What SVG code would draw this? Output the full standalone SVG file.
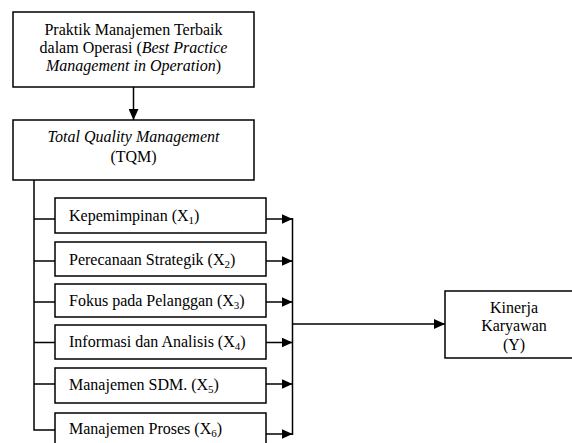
<svg xmlns="http://www.w3.org/2000/svg" width="572" height="443" viewBox="0 0 572 443">
<style>
.box{fill:#fff;stroke:#000;stroke-width:1.5}
.ln{fill:none;stroke:#000;stroke-width:1.5}
text{font-family:'Liberation Serif','Times New Roman',serif;font-size:16px;fill:#000}
.c{text-anchor:middle}
.i{font-style:italic}
.sub{font-size:11px}
</style>
<defs>
<marker id="ah" markerWidth="11" markerHeight="10" refX="11" refY="5" orient="auto" markerUnits="userSpaceOnUse">
<path d="M0,0 L11,5 L0,10 Z" fill="#000"/>
</marker>
</defs>
<rect width="572" height="443" fill="#fff"/>

<g id="connectors">
<line class="ln" x1="133.5" y1="87" x2="133.5" y2="120" marker-end="url(#ah)"/>
<path class="ln" d="M34,180 V430 H55"/>
<line class="ln" x1="34" y1="219" x2="55" y2="219"/>
<line class="ln" x1="34" y1="261" x2="55" y2="261"/>
<line class="ln" x1="34" y1="302" x2="55" y2="302"/>
<line class="ln" x1="34" y1="342.5" x2="55" y2="342.5"/>
<line class="ln" x1="34" y1="384" x2="55" y2="384"/>
<line class="ln" x1="266" y1="219" x2="292.5" y2="219" marker-end="url(#ah)"/>
<line class="ln" x1="266" y1="261" x2="292.5" y2="261" marker-end="url(#ah)"/>
<line class="ln" x1="266" y1="302" x2="292.5" y2="302" marker-end="url(#ah)"/>
<line class="ln" x1="266" y1="342.5" x2="292.5" y2="342.5" marker-end="url(#ah)"/>
<line class="ln" x1="266" y1="384" x2="292.5" y2="384" marker-end="url(#ah)"/>
<line class="ln" x1="266" y1="434" x2="292.5" y2="434" marker-end="url(#ah)"/>
<line class="ln" x1="292.5" y1="218" x2="292.5" y2="435"/>
<line class="ln" x1="292.5" y1="324" x2="445" y2="324" marker-end="url(#ah)"/>
</g>

<g id="best-practice">
<rect class="box" x="13" y="12" width="241" height="75"/>
<text class="c" x="133.5" y="35">Praktik Manajemen Terbaik</text>
<text class="c" x="133.5" y="53">dalam Operasi (<tspan class="i">Best Practice</tspan></text>
<text class="c" x="133.5" y="71"><tspan class="i">Management in Operation</tspan>)</text>
</g>

<g id="tqm">
<rect class="box" x="13" y="120" width="241" height="60"/>
<text class="c i" x="133.5" y="142">Total Quality Management</text>
<text class="c" x="133.5" y="162">(TQM)</text>
</g>

<g id="x1">
<rect class="box" x="55" y="198" width="211" height="35"/>
<text x="69" y="221">Kepemimpinan (X<tspan class="sub" dy="3">1</tspan><tspan dy="-3">)</tspan></text>
</g>
<g id="x2">
<rect class="box" x="55" y="242" width="211" height="34"/>
<text x="69" y="265">Perecanaan Strategik (X<tspan class="sub" dy="3">2</tspan><tspan dy="-3">)</tspan></text>
</g>
<g id="x3">
<rect class="box" x="55" y="284" width="211" height="33"/>
<text x="69" y="306">Fokus pada Pelanggan (X<tspan class="sub" dy="3">3</tspan><tspan dy="-3">)</tspan></text>
</g>
<g id="x4">
<rect class="box" x="55" y="325" width="211" height="34"/>
<text x="69" y="347">Informasi dan Analisis (X<tspan class="sub" dy="3">4</tspan><tspan dy="-3">)</tspan></text>
</g>
<g id="x5">
<rect class="box" x="55" y="368" width="211" height="35"/>
<text x="69" y="390">Manajemen SDM. (X<tspan class="sub" dy="3">5</tspan><tspan dy="-3">)</tspan></text>
</g>
<g id="x6">
<rect class="box" x="55" y="413" width="211" height="40"/>
<text x="69" y="434">Manajemen Proses (X<tspan class="sub" dy="3">6</tspan><tspan dy="-3">)</tspan></text>
</g>

<g id="kinerja">
<rect class="box" x="445" y="291" width="140" height="67"/>
<text class="c" x="514" y="313">Kinerja</text>
<text class="c" x="514" y="331">Karyawan</text>
<text class="c" x="514" y="350">(Y)</text>
</g>
</svg>
